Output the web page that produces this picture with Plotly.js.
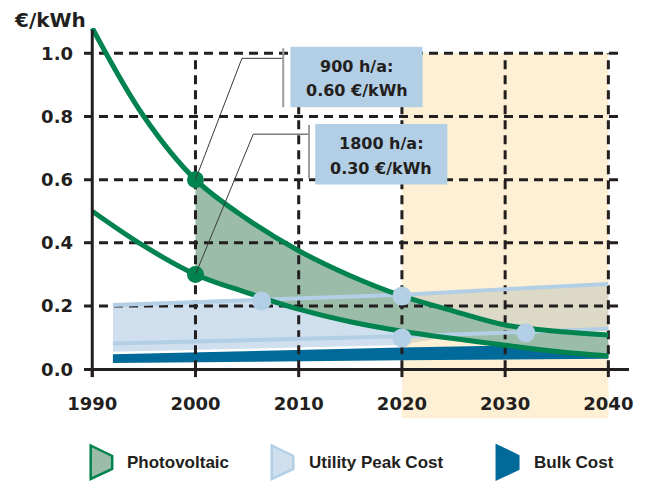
<!DOCTYPE html>
<html><head><meta charset="utf-8">
<script src="https://cdn.plot.ly/plotly-3.0.1.min.js"></script>
<style>html,body{margin:0;padding:0;background:#fff;}</style>
</head><body>
<div id="chart" style="width:654px;height:491px;"></div>
<script>
// ---- Photovoltaic cost curves (€/kWh) ----
const pvYears  = [1990, 1995, 2000, 2005, 2010, 2015, 2020, 2025, 2030, 2035, 2040];
const pv900h   = [1.08, 0.80, 0.60, 0.475, 0.375, 0.296, 0.232, 0.184, 0.14, 0.12, 0.108];
const pv1800h  = [0.50, 0.39, 0.30, 0.242, 0.19, 0.15, 0.12, 0.097, 0.076, 0.056, 0.042];
const pvFillFrom = 2000;
const pvMarkYears  = [2000, 2000];
const pvMarkValues = [0.60, 0.30];

// ---- Utility peak cost ----
const peakYears = [1992, 2020, 2040];
const peakHigh  = [0.203, 0.236, 0.27];
const peakLow   = [0.081, 0.104, 0.128];
const peakBandYears  = [1992, 2020, 2024, 2040];
const peakBandBottom = [0.055, 0.077, 0.10, 0.128];
const peakDotYears  = [2006.4, 2020, 2020, 2032];
const peakDotValues = [0.216, 0.232, 0.099, 0.115];

// ---- Bulk cost ----
const bulkYears  = [1992, 2020, 2040];
const bulkTop    = [0.047, 0.069, 0.08];
const bulkBottom = [0.02, 0.028, 0.033];

// ---- Axes / labels ----
const xTicks = [1990, 2000, 2010, 2020, 2030, 2040];
const yTicks = [0.0, 0.2, 0.4, 0.6, 0.8, 1.0];
const yTickText = ['0.0', '0.2', '0.4', '0.6', '0.8', '1.0'];
const forecastFrom = 2020, forecastTo = 2040;
const unitLabel = '€/kWh';
const boxLines = [['900 h/a:', '0.60 €/kWh'], ['1800 h/a:', '0.30 €/kWh']];
const legendNames = ['Photovoltaic', 'Utility Peak Cost', 'Bulk Cost'];

// ---- colours ----
const C = {
  ink: '#231f20', green: '#00834f', pvFill: '#9bbca8', peakLine: '#b3cfe6',
  peakFill: '#cfdfee', peakFillFc: '#dcdac6', bulk: '#006a9a', orange: '#fdf0d5', box: '#b3cfe6'
};

const W = 654, H = 491;
const margin = {l: 84, r: 25, t: 28, b: 106};
const plotW = W - margin.l - margin.r, plotH = H - margin.t - margin.b;
const xRange = [1989.2, 2042.0];
const yRange = [-0.05, 1.08];
const pxX = px => (px - margin.l) / plotW;          // pixel -> paper
const pxY = py => (H - margin.b - py) / plotH;
const vY = v => (v - yRange[0]) / (yRange[1] - yRange[0]); // data -> paper

function polygon(xTop, yTop, xBot, yBot) {
  return {x: xTop.concat(xBot.slice().reverse()), y: yTop.concat(yBot.slice().reverse())};
}
function pick(xs, ys, f) {
  const X = [], Y = [];
  xs.forEach((x, i) => { if (f(x)) { X.push(x); Y.push(ys[i]); } });
  return [X, Y];
}

const traces = [];
const base = {mode: 'lines', hoverinfo: 'skip', showlegend: false};

// bulk band
const bulkPoly = polygon(bulkYears, bulkTop, bulkYears, bulkBottom);
traces.push(Object.assign({}, base, {x: bulkPoly.x, y: bulkPoly.y, fill: 'toself', fillcolor: C.bulk, line: {width: 0}}));

// utility peak band (before / after the forecast boundary)
[[x => x <= forecastFrom, C.peakFill], [x => x >= forecastFrom, C.peakFillFc]].forEach(([f, col]) => {
  const [tx, ty] = pick(peakYears, peakHigh, f);
  const [bx, by] = pick(peakBandYears, peakBandBottom, f);
  const p = polygon(tx, ty, bx, by);
  traces.push(Object.assign({}, base, {x: p.x, y: p.y, fill: 'toself', fillcolor: col, line: {width: 0}}));
});

// PV band
const [pvfx, pvLo] = pick(pvYears, pv1800h, x => x >= pvFillFrom);
const [pvfx2, pvHi] = pick(pvYears, pv900h, x => x >= pvFillFrom);
traces.push(Object.assign({}, base, {x: pvfx, y: pvLo, line: {width: 0, shape: 'spline'}}));
traces.push(Object.assign({}, base, {x: pvfx2, y: pvHi, fill: 'tonexty', fillcolor: C.pvFill, line: {width: 0, shape: 'spline'}}));

// dashed grid
const gx = [], gy = [];
yTicks.filter(v => v > 0).forEach(v => { gx.push(xRange[0], 2041.5, null); gy.push(v, v, null); });
xTicks.filter(t => t > xTicks[0]).forEach(t => { gx.push(t, t, null); gy.push(0, yTicks[yTicks.length - 1], null); });
traces.push(Object.assign({}, base, {x: gx, y: gy, line: {color: C.ink, width: 3, dash: '9px,6px'}, connectgaps: false}));

// utility lines
traces.push(Object.assign({}, base, {x: peakYears, y: peakHigh, line: {color: C.peakLine, width: 4}}));
traces.push(Object.assign({}, base, {x: peakYears, y: peakLow, line: {color: C.peakLine, width: 4}}));

// PV curves
traces.push(Object.assign({}, base, {x: pvYears, y: pv900h, line: {color: C.green, width: 5, shape: 'spline'}}));
traces.push(Object.assign({}, base, {x: pvYears, y: pv1800h, line: {color: C.green, width: 5, shape: 'spline'}}));

// markers
traces.push({x: peakDotYears, y: peakDotValues, mode: 'markers', hoverinfo: 'skip', showlegend: false,
  marker: {color: C.peakLine, size: 19, line: {width: 0}}});
traces.push({x: pvMarkYears, y: pvMarkValues, mode: 'markers', hoverinfo: 'skip', showlegend: false,
  marker: {color: C.green, size: 17, line: {width: 0}}});

const shapes = [];
// forecast background
shapes.push({type: 'rect', xref: 'x', yref: 'paper', x0: forecastFrom, x1: forecastTo,
  y0: vY(-0.155), y1: vY(1.0), fillcolor: C.orange, line: {width: 0}, layer: 'below'});
// y axis line
shapes.push({type: 'line', xref: 'x', yref: 'y', x0: xTicks[0], x1: xTicks[0], y0: -0.025, y1: 1.074,
  line: {color: C.ink, width: 3}, layer: 'above'});
// x tick marks
xTicks.forEach(t => shapes.push({type: 'line', xref: 'x', yref: 'y', x0: t, x1: t, y0: 0, y1: -0.025,
  line: {color: C.ink, width: 3}, layer: 'above'}));

// callout boxes and leader lines
const boxes = [
  {x0: 2009.2, x1: 2022.0, y0: 0.829, y1: 1.021, bend: [2004.5, 0.984], end: 2008.5, br: [0.829, 1.016], from: 0},
  {x0: 2011.6, x1: 2024.4, y0: 0.585, y1: 0.776, bend: [2005.6, 0.744], end: 2011.0, br: [0.605, 0.773], from: 1}
];
const annotations = [];
boxes.forEach((b, i) => {
  shapes.push({type: 'rect', xref: 'x', yref: 'y', x0: b.x0, x1: b.x1, y0: b.y0, y1: b.y1,
    fillcolor: C.box, line: {width: 0}, layer: 'above'});
  shapes.push({type: 'path', xref: 'x', yref: 'y',
    path: `M${pvMarkYears[b.from]},${pvMarkValues[b.from]} L${b.bend[0]},${b.bend[1]} L${b.end},${b.bend[1]}`,
    line: {color: '#3a3a3a', width: 1}, layer: 'above'});
  shapes.push({type: 'line', xref: 'x', yref: 'y', x0: b.end, x1: b.end, y0: b.br[0], y1: b.br[1],
    line: {color: '#9d9d9d', width: 2}, layer: 'above'});
  const cx = (b.x0 + b.x1) / 2, h = b.y1 - b.y0;
  [0.32, 0.73].forEach((f, k) => annotations.push({xref: 'x', yref: 'y', x: cx, y: b.y1 - f * h,
    text: boxLines[i][k], showarrow: false, xanchor: 'center', yanchor: 'middle',
    font: {family: 'DejaVu Sans', size: 16, color: C.ink, weight: 'bold'}}));
});

// unit label
annotations.push({xref: 'paper', yref: 'paper', x: pxX(50), y: pxY(20), text: unitLabel, showarrow: false,
  xanchor: 'center', yanchor: 'middle', font: {family: 'DejaVu Sans', size: 20, color: C.ink, weight: 'bold'}});

// custom legend
const legendItems = [
  {left: 90.7, text: 124.5, fill: C.pvFill, stroke: C.green},
  {left: 271.8, text: 306.7, fill: C.peakFill, stroke: C.peakLine},
  {left: 496.8, text: 531.7, fill: C.bulk, stroke: C.bulk}
];
legendItems.forEach((it, i) => {
  const L = it.left, R = it.left + 21.5;
  const pts = [[L, 445.5], [R, 456], [R, 469], [L, 479]].map(p => pxX(p[0]) + ',' + pxY(p[1]));
  shapes.push({type: 'path', xref: 'paper', yref: 'paper', path: 'M' + pts.join(' L') + ' Z',
    fillcolor: it.fill, line: {color: it.stroke, width: 2.5}, layer: 'above'});
  annotations.push({xref: 'paper', yref: 'paper', x: pxX(it.text), y: pxY(462.5), text: legendNames[i],
    showarrow: false, xanchor: 'left', yanchor: 'middle',
    font: {family: 'Liberation Sans', size: 17, color: C.ink, weight: 'bold'}});
});

const tickFont = {family: 'DejaVu Sans', size: 18, color: C.ink, weight: 'bold'};
const layout = {
  width: W, height: H, margin: margin, paper_bgcolor: '#fff', plot_bgcolor: 'rgba(0,0,0,0)',
  showlegend: false,
  xaxis: {range: xRange, tickvals: xTicks, ticktext: xTicks.map(String), showgrid: false, zeroline: false,
    showline: false, ticks: '', tickfont: tickFont, ticklabelstandoff: 6, fixedrange: true},
  yaxis: {range: yRange, tickvals: yTicks, ticktext: yTickText, showgrid: false, zeroline: true,
    zerolinecolor: C.ink, zerolinewidth: 3, showline: false, ticks: '', tickfont: tickFont,
    ticklabelstandoff: 10, fixedrange: true},
  shapes: shapes, annotations: annotations
};
Plotly.newPlot('chart', traces, layout, {staticPlot: true, displayModeBar: false});
</script>
</body></html>
